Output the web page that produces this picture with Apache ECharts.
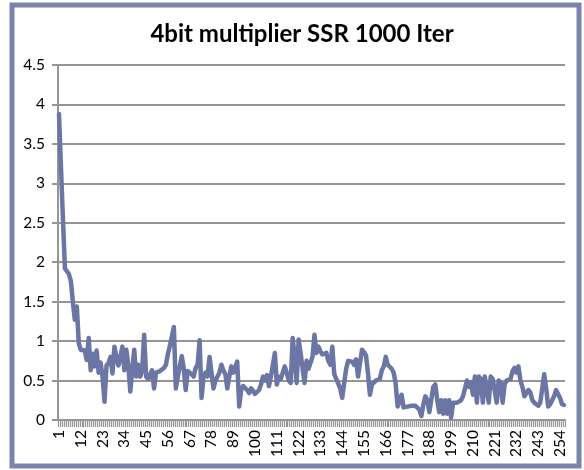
<!DOCTYPE html>
<html>
<head>
<meta charset="utf-8">
<script src="https://cdn.jsdelivr.net/npm/echarts@6/dist/echarts.min.js"></script>
<style>
  html, body { margin: 0; padding: 0; background: #ffffff; }
  #chart { width: 584px; height: 470px; }
</style>
</head>
<body>
<div id="chart"></div>
<script>
// SSR per iteration for the 4-bit multiplier, 1000-iteration run
const iterations = Array.from({ length: 256 }, (_, i) => String(i + 1));

const ssr = [
  3.88, 3.2, 2.55, 1.92, 1.9, 1.85, 1.76, 1.5, 1.27, 1.44,
  0.97, 0.89, 0.9, 0.88, 0.76, 1.04, 0.63, 0.84, 0.68, 0.88,
  0.6, 0.73, 0.55, 0.23, 0.69, 0.72, 0.8, 0.59, 0.93, 0.8,
  0.69, 0.8, 0.93, 0.63, 0.89, 0.7, 0.36, 0.63, 0.89, 0.55,
  0.7, 0.55, 0.63, 1.08, 0.55, 0.52, 0.5, 0.63, 0.4, 0.6,
  0.62, 0.62, 0.64, 0.66, 0.7, 0.84, 0.94, 0.92, 1.18, 0.4,
  0.55, 0.68, 0.81, 0.65, 0.38, 0.62, 0.6, 0.58, 0.55, 0.66,
  0.7, 1.01, 0.28, 0.55, 0.6, 0.55, 0.8, 0.82, 0.4, 0.5,
  0.48, 0.6, 0.7, 0.63, 0.58, 0.4, 0.55, 0.68, 0.6, 0.6,
  0.74, 0.17, 0.38, 0.43, 0.41, 0.38, 0.34, 0.4, 0.37, 0.33,
  0.32, 0.38, 0.45, 0.55, 0.5, 0.57, 0.43, 0.55, 0.7, 0.85,
  0.45, 0.55, 0.52, 0.6, 0.68, 0.6, 0.5, 0.47, 1.04, 0.8,
  0.47, 1.02, 0.85, 0.65, 0.47, 0.75, 0.65, 0.63, 0.8, 1.08,
  0.85, 0.93, 0.87, 0.83, 0.85, 0.85, 0.75, 0.7, 0.93, 0.58,
  0.52, 0.5, 0.4, 0.28, 0.3, 0.65, 0.75, 0.75, 0.74, 0.7,
  0.77, 0.55, 0.55, 0.89, 0.86, 0.82, 0.6, 0.32, 0.45, 0.47,
  0.5, 0.48, 0.52, 0.63, 0.68, 0.8, 0.7, 0.7, 0.65, 0.6,
  0.46, 0.17, 0.17, 0.32, 0.16, 0.17, 0.17, 0.18, 0.18, 0.17,
  0.18, 0.16, 0.13, 0.05, 0.2, 0.3, 0.25, 0.1, 0.08, 0.42,
  0.45, 0.25, 0.1, 0.25, 0.08, 0.25, 0.08, 0.25, 0.03, 0.22,
  0.2, 0.22, 0.22, 0.25, 0.3, 0.4, 0.5, 0.42, 0.48, 0.32,
  0.55, 0.22, 0.55, 0.52, 0.22, 0.55, 0.55, 0.22, 0.55, 0.52,
  0.5, 0.22, 0.5, 0.47, 0.22, 0.45, 0.5, 0.5, 0.52, 0.62,
  0.66, 0.6, 0.68, 0.5, 0.42, 0.3, 0.32, 0.38, 0.35, 0.25,
  0.22, 0.21, 0.18, 0.22, 0.4, 0.58, 0.4, 0.17, 0.2, 0.25,
  0.3, 0.38, 0.38, 0.28, 0.2, 0.19
];

const yTicks = { min: 0, max: 4.5, step: 0.5 };

const chart = echarts.init(document.getElementById('chart'), null, { renderer: 'canvas' });

const gridColor = '#959595';
const labelFont = 'Lato, "Open Sans", sans-serif';

chart.setOption({
  animation: false,
  backgroundColor: '#ffffff',
  title: {
    text: '4bit multiplier SSR 1000 Iter',
    left: 297,
    textAlign: 'center',
    top: 17,
    textStyle: {
      fontFamily: labelFont,
      fontWeight: 'bold',
      fontSize: 24,
      color: '#000000'
    }
  },
  graphic: [{
    type: 'rect',
    silent: true,
    shape: { x: 12, y: 5, width: 567, height: 461 },
    style: { fill: 'none', stroke: '#7a84ad', lineWidth: 5 },
    z: 100
  }],
  grid: { left: 58, right: 19, top: 65, bottom: 50, containLabel: false },
  xAxis: {
    type: 'category',
    data: iterations,
    boundaryGap: true,
    axisLine: { lineStyle: { color: gridColor, width: 2 } },
    axisTick: {
      show: true,
      interval: 0,
      length: 7,
      lineStyle: { color: gridColor, width: 1.2 }
    },
    axisLabel: {
      interval: 10,
      rotate: 90,
      margin: 10,
      fontFamily: labelFont,
      fontSize: 15.5,
      color: '#000000'
    },
    splitLine: { show: false }
  },
  yAxis: {
    type: 'value',
    min: yTicks.min,
    max: yTicks.max,
    interval: yTicks.step,
    axisLine: { show: true, lineStyle: { color: gridColor, width: 2 } },
    axisTick: { show: true, length: 6, lineStyle: { color: gridColor, width: 2 } },
    axisLabel: {
      margin: 13,
      fontFamily: labelFont,
      fontSize: 15.5,
      color: '#000000'
    },
    splitLine: { lineStyle: { color: gridColor, width: 2 } }
  },
  series: [{
    type: 'line',
    data: ssr,
    showSymbol: false,
    symbol: 'none',
    lineStyle: { color: '#6b76a5', width: 4.5, cap: 'round', join: 'round' },
    z: 3
  }]
});
</script>
</body>
</html>
